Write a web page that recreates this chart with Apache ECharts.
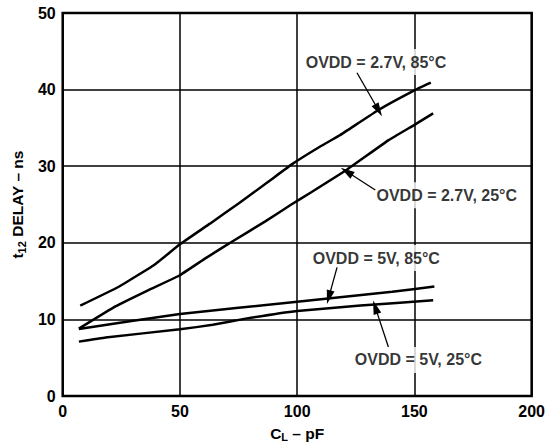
<!DOCTYPE html>
<html>
<head>
<meta charset="utf-8">
<script src="https://cdn.jsdelivr.net/npm/echarts@6/dist/echarts.min.js"></script>
<style>html,body{margin:0;padding:0;background:#fff}#c{width:548px;height:448px}</style>
</head>
<body>
<div id="c"></div>
<script>
// Data (x: C_L in pF, y: t12 delay in ns)
const xTicks = [0, 50, 100, 150, 200];
const yTicks = [0, 10, 20, 30, 40, 50];
const ovdd27_85 = [[7.5,11.8],[23.5,14.2],[39,17.1],[50,19.8],[62.8,22.5],[75.3,25.2],[87.8,28.0],[98,30.3],[110,32.6],[118,34.0],[135,37.4],[150,39.9],[157,40.9]];
const ovdd27_25 = [[6.9,8.8],[22.5,11.7],[36.4,13.8],[49.6,15.7],[61,18.0],[72.5,20.2],[86.4,22.8],[97.5,25.0],[106,26.6],[121,29.5],[139,33.4],[150,35.4],[158,36.9]];
const ovdd5_85 = [[6.9,8.75],[50,10.7],[100,12.3],[140.5,13.6],[158.5,14.3]];
const ovdd5_25 = [[6.9,7.1],[18.3,7.65],[50,8.7],[64,9.3],[78,10.1],[100,11.1],[127,11.8],[158,12.5]];
const labelTexts = ['OVDD = 2.7V, 85°C', 'OVDD = 2.7V, 25°C', 'OVDD = 5V, 85°C', 'OVDD = 5V, 25°C'];
const labelAt = [[133.6,43.6],[163.8,26.2],[133.75,18.0],[151.7,4.7]];
const arrows = [
  [[125.5,42.2],[134.7,37.3]],
  [[133.3,26.9],[121.1,29.3]],
  [[117,16.8],[113.5,12.9]],
  [[138.9,6.4],[133.3,11.6]]
];

const FONT = 'Liberation Sans, Arial, Helvetica, sans-serif';
const chart = echarts.init(document.getElementById('c'), null, {renderer: 'svg'});
const lineStyle = {color: '#000', width: 2.5};
function curve(name, data) {
  return {name, type: 'line', data, smooth: 0.1, showSymbol: false, symbol: 'none',
    lineStyle, itemStyle: {color: '#000'}, z: 3};
}
const richName = {
  c: {fontFamily: FONT, fontWeight: 'bold', fontSize: 15.5, color: '#000', lineHeight: 17},
  s: {fontFamily: FONT, fontWeight: 'bold', fontSize: 11, color: '#000', lineHeight: 11, padding: [8,0,0,0]}
};
chart.setOption({
  animation: false,
  backgroundColor: '#fff',
  grid: {left: 56, right: 12, top: 13, bottom: 52, show: true, borderColor: '#000', borderWidth: 2.5, backgroundColor: 'transparent'},
  xAxis: {
    type: 'value', min: xTicks[0], max: xTicks[xTicks.length-1], interval: 50,
    axisLine: {show: false}, axisTick: {show: false},
    splitLine: {show: true, lineStyle: {color: '#000', width: 1.5}},
    axisLabel: {color: '#000', fontFamily: FONT, fontWeight: 'bold', fontSize: 16, margin: 7},
    name: '{c|C}{s|L}{c| – pF}', nameLocation: 'middle', nameGap: 28,
    nameTextStyle: {rich: richName}
  },
  yAxis: {
    type: 'value', min: yTicks[0], max: yTicks[yTicks.length-1], interval: 10,
    axisLine: {show: false}, axisTick: {show: false},
    splitLine: {show: true, lineStyle: {color: '#000', width: 1.5}},
    axisLabel: {color: '#000', fontFamily: FONT, fontWeight: 'bold', fontSize: 16, margin: 7},
    name: '{c|t}{s|12}{c| DELAY – ns}', nameLocation: 'middle', nameGap: 31,
    nameTextStyle: {rich: richName}
  },
  series: [
    curve('OVDD = 2.7V, 85°C', ovdd27_85),
    curve('OVDD = 2.7V, 25°C', ovdd27_25),
    curve('OVDD = 5V, 85°C', ovdd5_85),
    curve('OVDD = 5V, 25°C', ovdd5_25),
    {
      type: 'scatter', symbolSize: 0, z: 4,
      data: labelAt.map((p, i) => ({value: p, name: labelTexts[i]})),
      label: {show: true, position: 'inside', formatter: p => p.name, color: '#000',
        fontFamily: FONT, fontWeight: 'bold', fontSize: 16, backgroundColor: '#fff', padding: [5,3]},
      markLine: {
        silent: true, symbol: ['none', 'triangle'], symbolSize: [8, 14],
        label: {show: false},
        lineStyle: {color: '#000', width: 1.3, type: 'solid'},
        data: arrows.map(a => [{coord: a[0]}, {coord: a[1]}])
      }
    }
  ]
});
</script>
</body>
</html>
